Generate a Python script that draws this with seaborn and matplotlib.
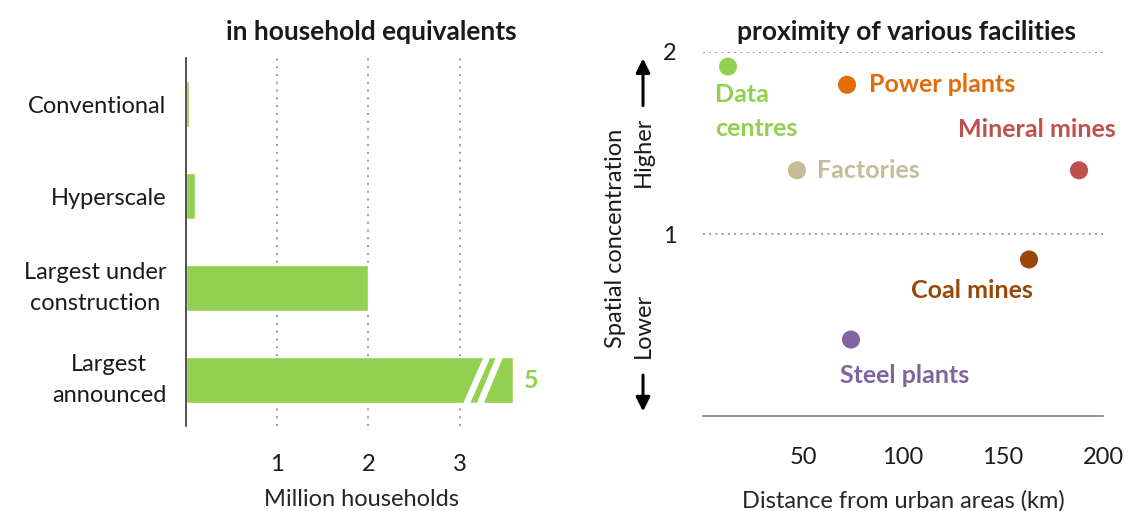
import matplotlib
matplotlib.use("Agg")
import matplotlib.pyplot as plt
from matplotlib.patches import Polygon
import seaborn as sns
import pandas as pd

# --- data -------------------------------------------------------------
centre_types = ["Conventional", "Hyperscale", "Largest under\nconstruction", "Largest\nannounced"]
households_m = [0.03, 0.1, 2.0, 5.0]           # million household equivalents
axis_break_at = 3.585                           # bars longer than this are drawn broken

facilities = ["Data\ncentres", "Power plants", "Factories", "Mineral mines", "Coal mines", "Steel plants"]
distance_km = [12.5, 72, 47, 188, 163, 74]
concentration = [1.92, 1.82, 1.35, 1.35, 0.86, 0.42]
facility_colors = ["#92d050", "#e36c0a", "#c4bd97", "#c0504d", "#984806", "#8064a2"]

x_ticks_left = [1, 2, 3]
x_ticks_right = [50, 100, 150, 200]
y_ticks_right = [1, 2]

GREEN = "#92d050"
GRID = "#9a9a9a"
FS = 17          # regular text
FS_B = 18        # bold labels
FS_T = 19        # panel titles

sns.set_theme(style="white")
plt.rcParams["font.family"] = ["Lato", "DejaVu Sans"]
plt.rcParams["text.color"] = "#1a1a1a"
plt.rcParams["xtick.color"] = "#1a1a1a"
plt.rcParams["ytick.color"] = "#1a1a1a"

W, H = 1135, 511
fig = plt.figure(figsize=(W / 100, H / 100), dpi=100)

# --- left: household equivalents -------------------------------------
ax1 = fig.add_axes([186 / W, 85 / H, 352 / W, 368 / H])
bars = pd.DataFrame({
    "type": centre_types,
    "value": households_m,
    "shown": [min(v, axis_break_at) for v in households_m],
})
for x in x_ticks_left:
    ax1.axvline(x, color=GRID, lw=1.4, ls=(0, (1, 3)), zorder=0)
sns.barplot(data=bars, x="shown", y="type", color=GREEN, width=0.5,
            orient="h", saturation=1, ax=ax1, zorder=2)
ax1.set_xlim(0, 3.86)
ax1.set_ylim(3.5, -0.5)

# break marks and value label on bars exceeding the axis
for i, row in bars.iterrows():
    if row["value"] > axis_break_at:
        top, bot = i - 0.25, i + 0.25
        w = 0.077
        for b_mid, t_mid in [(3.075, 3.306), (3.224, 3.443)]:
            b0, t0 = b_mid - w / 2, t_mid - w / 2
            ax1.add_patch(Polygon([(b0, bot + 0.01), (b0 + w, bot + 0.01),
                                   (t0 + w, top - 0.01), (t0, top - 0.01)],
                                  closed=True, fc="white", ec="none", zorder=3))
        ax1.text(row["shown"] + 0.12, i, f"{row['value']:g}", color=GREEN,
                 fontsize=FS_B, fontweight="bold", va="center", ha="left")

ax1.set_xticks(x_ticks_left)
ax1.set_xticklabels([str(t) for t in x_ticks_left])
ax1.tick_params(axis="x", length=0, pad=20, labelsize=FS)
ax1.tick_params(axis="y", length=0, pad=14, labelsize=FS)
for lbl in ax1.get_yticklabels():
    lbl.set_multialignment("center")
    lbl.set_linespacing(1.6)
    if "\n" in lbl.get_text():
        lbl.set_verticalalignment("center")
ax1.set_xlabel("Million households", fontsize=FS, labelpad=10)
ax1.set_ylabel("")
for s in ["top", "right", "bottom"]:
    ax1.spines[s].set_visible(False)
ax1.spines["left"].set_color("#333333")
ax1.spines["left"].set_linewidth(1.2)

# --- right: spatial concentration vs distance -------------------------
ax2 = fig.add_axes([703 / W, 95 / H, 400 / W, 364 / H])
pts = pd.DataFrame({"facility": facilities, "distance": distance_km,
                    "concentration": concentration})
for y in y_ticks_right:
    ax2.axhline(y, color=GRID, lw=1.4, ls=(0, (1, 2.2)), zorder=0)
sns.scatterplot(data=pts, x="distance", y="concentration", hue="facility",
                palette=facility_colors, s=170, edgecolor="none",
                legend=False, ax=ax2, zorder=3, clip_on=False)
ax2.set_xlim(0, 200)
ax2.set_ylim(0, 2)

label_offsets = {
    "Data\ncentres": ((-13, -16), "left", "top"),
    "Power plants": ((22, 0), "left", "center"),
    "Factories": ((20, 0), "left", "center"),
    "Mineral mines": ((37, 41), "right", "center"),
    "Coal mines": ((-57, -31), "center", "center"),
    "Steel plants": ((54, -36), "center", "center"),
}
for name, dx, cy, col in zip(facilities, distance_km, concentration, facility_colors):
    off, ha, va = label_offsets[name]
    ax2.annotate(name, (dx, cy), xytext=off, textcoords="offset pixels",
                 ha=ha, va=va, color=col, fontsize=FS_B, fontweight="bold",
                 linespacing=1.6, annotation_clip=False)

ax2.set_xticks(x_ticks_right)
ax2.set_yticks(y_ticks_right)
ax2.tick_params(axis="x", length=0, pad=22, labelsize=FS)
ax2.tick_params(axis="y", length=0, pad=19, labelsize=FS)
ax2.set_xlabel("Distance from urban areas (km)", fontsize=FS, labelpad=16)
ax2.set_ylabel("")
for s in ["top", "right", "left"]:
    ax2.spines[s].set_visible(False)
ax2.spines["bottom"].set_color("#7f7f7f")
ax2.spines["bottom"].set_linewidth(1.2)

# panel titles on a common baseline
fig.text(371 / W, 1 - 32 / H, "in household equivalents", ha="center", va="center",
         fontsize=FS_T, fontweight="bold")
fig.text(907 / W, 1 - 32 / H, "proximity of various facilities", ha="center", va="center",
         fontsize=FS_T, fontweight="bold")

# y-axis description with direction arrows
tr = ax2.transAxes
ax2.text(-0.22, 0.489, "Spatial concentration", transform=tr, rotation=90,
         ha="center", va="center", fontsize=FS)
ax2.text(-0.15, 0.725, "Higher", transform=tr, rotation=90,
         ha="center", va="center", fontsize=FS)
ax2.text(-0.15, 0.25, "Lower", transform=tr, rotation=90,
         ha="center", va="center", fontsize=FS)
arrow = dict(arrowstyle="-|>,head_length=0.7,head_width=0.35", color="black", lw=2.2)
ax2.annotate("", xy=(-0.15, 0.99), xytext=(-0.15, 0.845), xycoords=tr,
             textcoords=tr, arrowprops=arrow, annotation_clip=False)
ax2.annotate("", xy=(-0.15, 0.005), xytext=(-0.15, 0.12), xycoords=tr,
             textcoords=tr, arrowprops=arrow, annotation_clip=False)

fig.savefig("out.png", dpi=100)
